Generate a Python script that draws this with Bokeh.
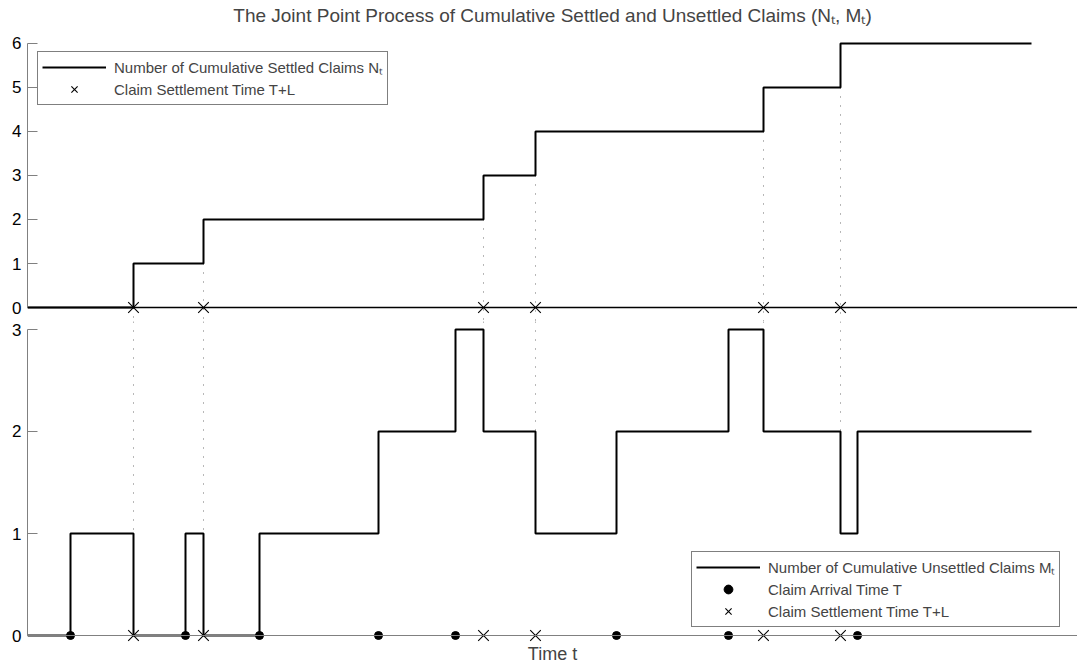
from bokeh.plotting import figure
from bokeh.models import Span, FixedTicker, Legend, LegendItem, Range1d, Title
from bokeh.layouts import column
from bokeh.embed import file_html
from bokeh.resources import INLINE

# ---------------- data (time in arbitrary units) ----------------
arrival_times = [0.43, 1.58, 2.32, 3.51, 4.28, 5.89, 7.01, 8.30]
settlement_times = [1.06, 1.76, 4.56, 5.08, 7.36, 8.13]
t_start = 0.0
t_end = 10.04
x_max = 10.5

# cumulative settled claims N_t (level after each settlement)
N_levels = [0, 1, 2, 3, 4, 5, 6]
N_before = [0, 1, 2, 3, 4, 5]

# cumulative unsettled claims M_t (level after each arrival / settlement)
M_change_times = [0.43, 1.06, 1.58, 1.76, 2.32, 3.51, 4.28, 4.56, 5.08,
                  5.89, 7.01, 7.36, 8.13, 8.30]
M_levels = [0, 1, 0, 1, 0, 1, 2, 3, 2, 1, 2, 3, 2, 1, 2]
M_before = [1, 1, 3, 2, 3, 2]

N_ticks = [0, 1, 2, 3, 4, 5, 6]
M_ticks = [0, 1, 2, 3]

title_text = "The Joint Point Process of Cumulative Settled and Unsettled Claims (N\u209c, M\u209c)"
label_N = "Number of Cumulative Settled Claims N\u209c"
label_M = "Number of Cumulative Unsettled Claims M\u209c"
label_T = "Claim Arrival Time T"
label_TL = "Claim Settlement Time T+L"
x_label = "Time t"

FONT = "Liberation Sans"
GRAY = "#808080"
DOT = "#707070"

top_y = (-0.318, 6.045)
bot_y = (-0.0784, 3.0784)

N_x = [t_start] + settlement_times + [t_end]
N_y = N_levels + [N_levels[-1]]
M_x = [t_start] + M_change_times + [t_end]
M_y = M_levels + [M_levels[-1]]


def style_y(p, ticks):
    ax = p.yaxis[0]
    ax.ticker = FixedTicker(ticks=ticks)
    ax.bounds = (ticks[0], ticks[-1])
    ax.axis_line_color = GRAY
    ax.major_tick_line_color = GRAY
    ax.major_tick_in = 10
    ax.major_tick_out = 0
    ax.minor_tick_line_color = None
    ax.major_label_text_font = FONT
    ax.major_label_text_font_size = "17px"
    ax.major_label_text_color = "black"
    ax.major_label_standoff = 6
    p.grid.visible = False
    p.outline_line_color = None


def style_legend(lg):
    lg.label_text_font = FONT
    lg.label_text_font_size = "15px"
    lg.glyph_width = 64
    lg.glyph_height = 22
    lg.label_height = 22
    lg.label_standoff = 8
    lg.padding = 4
    lg.spacing = 0
    lg.margin = 0
    lg.border_line_color = "black"
    lg.border_line_width = 1
    lg.background_fill_color = "white"
    lg.background_fill_alpha = 1.0


# ---------------- top panel: N_t ----------------
p1 = figure(width=1077, height=321, x_range=Range1d(0, x_max),
            y_range=Range1d(*top_y), x_axis_location=None,
            toolbar_location=None, output_backend="svg",
            min_border_left=27, min_border_right=0,
            min_border_top=41, min_border_bottom=0)
# spacer between the title and the frame (nearest to the frame)
p1.add_layout(Title(text="\u00a0", text_font_size="1px", standoff=12), "above")
main_title = Title(text=title_text, text_font=FONT, text_font_size="19px",
                   text_font_style="normal", align="center", standoff=2)
p1.add_layout(main_title, "above")
style_y(p1, N_ticks)

p1.segment(x0=settlement_times, y0=N_before, x1=settlement_times,
           y1=[top_y[0]] * len(settlement_times),
           line_color=DOT, line_width=1, line_dash="1 8")
p1.add_layout(Span(location=0, dimension="width", line_color="black", line_width=1.3))
rN = p1.step(N_x, N_y, mode="after", line_color="black", line_width=2)
rX1 = p1.scatter(settlement_times, [0] * len(settlement_times), marker="x",
                 size=15, line_color="black", line_width=1.1)

lg1 = Legend(items=[LegendItem(label=label_N, renderers=[rN]),
                    LegendItem(label=label_TL, renderers=[rX1])],
             location=(10, 216))
style_legend(lg1)
p1.add_layout(lg1)

# ---------------- bottom panel: M_t ----------------
p2 = figure(width=1077, height=345, x_range=p1.x_range,
            y_range=Range1d(*bot_y),
            toolbar_location=None, output_backend="svg",
            min_border_left=27, min_border_right=0,
            min_border_top=0, min_border_bottom=23)
style_y(p2, M_ticks)
xa = p2.xaxis[0]
xa.ticker = FixedTicker(ticks=[])
xa.axis_line_color = None
xa.major_tick_line_color = None
xa.minor_tick_line_color = None
xa.major_tick_out = 0
xa.major_tick_in = 0
xa.major_label_standoff = 0
xa.axis_label = x_label
xa.axis_label_text_font = FONT
xa.axis_label_text_font_size = "18px"
xa.axis_label_text_font_style = "normal"
xa.axis_label_standoff = 0

p2.segment(x0=settlement_times, y0=[bot_y[1]] * len(settlement_times),
           x1=settlement_times, y1=M_before,
           line_color=DOT, line_width=1, line_dash="1 8")
p2.add_layout(Span(location=0, dimension="width", line_color=GRAY, line_width=1))
rM = p2.step(M_x, M_y, mode="after", line_color="black", line_width=2)
rT = p2.scatter(arrival_times, [0] * len(arrival_times), marker="circle",
                size=8, fill_color="black", line_color="black")
rX2 = p2.scatter(settlement_times, [0] * len(settlement_times), marker="x",
                 size=15, line_color="black", line_width=1.1)

lg2 = Legend(items=[LegendItem(label=label_M, renderers=[rM]),
                    LegendItem(label=label_T, renderers=[rT]),
                    LegendItem(label=label_TL, renderers=[rX2])],
             location=(664, 16))
style_legend(lg2)
p2.add_layout(lg2)

layout = column(p1, p2)
open("out.html", "w").write(file_html(layout, INLINE))
